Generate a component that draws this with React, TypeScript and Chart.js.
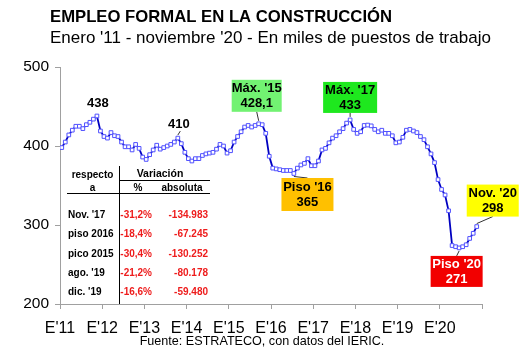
import React, { useEffect, useRef } from "react";
import { Chart, registerables } from "chart.js";

Chart.register(...registerables);

// Monthly formal construction employment, Jan 2011 - Nov 2020 (thousands)
const employment: number[] = [
  // 2011
  398, 405, 414, 420, 425, 425, 422, 427, 430, 434, 438, 419,
  // 2012
  412, 410, 417, 413, 412, 405, 399, 399, 395, 402, 397, 386,
  // 2013
  383, 389, 395, 401, 396, 398, 400, 402, 405, 410, 403, 392,
  // 2014
  384, 381, 384, 384, 388, 390, 391, 392, 396, 402, 400, 391,
  // 2015
  394, 405, 412, 418, 424, 426, 424, 426, 428.1, 427, 416, 387,
  // 2016
  372, 371, 370, 369, 369, 369, 365.2, 372, 376, 378, 384, 375,
  // 2017
  375, 381, 395, 397, 404, 410, 413, 418, 422, 429, 433, 421,
  // 2018
  416, 418, 426, 426.5, 425.5, 421, 418, 420, 416, 416, 413, 404,
  // 2019
  405, 411, 420, 421, 419, 417, 412, 408, 399, 390, 379, 357.5,
  // 2020
  345, 338, 318, 274, 272.5, 271, 272.5, 275, 283, 289.5, 298,
];

const yearLabels: string[] = ["E'11", "E'12", "E'13", "E'14", "E'15", "E'16", "E'17", "E'18", "E'19", "E'20"];
const yTicks: number[] = [200, 300, 400, 500];

const tableRefs: string[] = ["Nov. '17", "piso 2016", "pico 2015", "ago. '19", "dic. '19"];
const tablePct: string[] = ["-31,2%", "-18,4%", "-30,4%", "-21,2%", "-16,6%"];
const tableAbs: string[] = ["-134.983", "-67.245", "-130.252", "-80.178", "-59.480"];

// annotation definitions: index into employment, text lines
const boxNotes = [
  { idx: 56, lines: ["Máx. '15", "428,1"], bg: "#72f272", fg: "#000", dx: -2, top: -44, w: 50, h: 32, anchor: "bottom" },
  { idx: 82, lines: ["Máx. '17", "433"], bg: "#1ee81e", fg: "#000", dx: 0, top: -38, w: 54, h: 31, anchor: "bottom" },
  { idx: 66, lines: ["Piso '16", "365"], bg: "#ffc000", fg: "#000", dx: 13.6, top: 4.5, w: 52, h: 33, anchor: "top" },
  { idx: 118, lines: ["Nov. '20", "298"], bg: "#ffff00", fg: "#000", dx: 16, top: -42, w: 52, h: 32, anchor: "bottom" },
  { idx: 113, lines: ["Piso '20", "271"], bg: "#f20000", fg: "#fff", dx: -2.5, top: 8, w: 52, h: 31, anchor: "top" },
];
const textNotes = [
  { idx: 10, text: "438", dx: 1, dy: -13 },
  { idx: 33, text: "410", dx: 1, dy: -14 },
];

const FONT = '"Liberation Sans", Arial, Helvetica, sans-serif';

const overlayPlugin = {
  id: "overlay",
  afterDraw(chart: any) {
    const ctx = chart.ctx as CanvasRenderingContext2D;
    const xs = chart.scales.x;
    const ys = chart.scales.y;
    const P = (i: number) => ({ x: xs.getPixelForValue(i + 0.5), y: ys.getPixelForValue(employment[i]) });
    ctx.save();

    // Titles
    ctx.fillStyle = "#000";
    ctx.textBaseline = "middle";
    ctx.textAlign = "left";
    ctx.font = `bold 16.7px ${FONT}`;
    ctx.fillText("EMPLEO FORMAL EN LA CONSTRUCCIÓN", 50, 17);
    ctx.font = `17px ${FONT}`;
    ctx.fillText("Enero '11 - noviembre '20 - En miles de puestos de trabajo", 50, 38);

    // Footer
    ctx.textAlign = "center";
    ctx.font = `12.6px ${FONT}`;
    ctx.fillText("Fuente: ESTRATECO, con datos del IERIC.", 262, 342);

    // Table
    ctx.strokeStyle = "#000";
    ctx.lineWidth = 1;
    ctx.beginPath();
    ctx.moveTo(119.5, 166);
    ctx.lineTo(119.5, chart.chartArea.bottom);
    ctx.moveTo(120, 180.5);
    ctx.lineTo(210, 180.5);
    ctx.moveTo(67, 193.5);
    ctx.lineTo(210, 193.5);
    ctx.stroke();

    ctx.font = `bold 10px ${FONT}`;
    ctx.fillStyle = "#000";
    ctx.textAlign = "center";
    ctx.fillText("respecto", 92.5, 175);
    ctx.fillText("a", 92.5, 188);
    ctx.font = `bold 10.5px ${FONT}`;
    ctx.fillText("Variación", 160, 174);
    ctx.font = `bold 10px ${FONT}`;
    ctx.fillText("%", 138, 188);
    ctx.fillText("absoluta", 182, 188);
    tableRefs.forEach((r, k) => {
      const y = 215 + k * 19.4;
      ctx.fillStyle = "#000";
      ctx.textAlign = "left";
      ctx.fillText(r, 68, y);
      ctx.fillStyle = "#ee1c1c";
      ctx.textAlign = "right";
      ctx.fillText(tablePct[k], 152, y);
      ctx.fillText(tableAbs[k], 208, y);
    });

    // Text notes
    ctx.font = `bold 13px ${FONT}`;
    ctx.textAlign = "center";
    ctx.fillStyle = "#000";
    textNotes.forEach((n) => {
      const p = P(n.idx);
      ctx.fillText(n.text, p.x + n.dx, p.y + n.dy);
    });
    {
      const p = P(33);
      ctx.strokeStyle = "#333";
      ctx.beginPath();
      ctx.moveTo(p.x, p.y - 3);
      ctx.lineTo(p.x + 2.5, p.y - 7);
      ctx.stroke();
    }

    // Box notes
    boxNotes.forEach((n) => {
      const p = P(n.idx);
      const cx = p.x + n.dx;
      const bx = cx - n.w / 2;
      const by = p.y + n.top;
      ctx.strokeStyle = "#333";
      ctx.lineWidth = 1;
      ctx.beginPath();
      if (n.anchor === "bottom") {
        ctx.moveTo(p.x, p.y - 3);
        ctx.lineTo(cx, by + n.h);
      } else {
        ctx.moveTo(p.x, p.y + 3);
        ctx.lineTo(cx, by);
      }
      ctx.stroke();
      ctx.fillStyle = n.bg;
      ctx.fillRect(bx, by, n.w, n.h);
      ctx.fillStyle = n.fg;
      ctx.font = `bold 13px ${FONT}`;
      ctx.textAlign = "center";
      ctx.fillText(n.lines[0], cx, by + n.h / 2 - 7);
      ctx.fillText(n.lines[1], cx, by + n.h / 2 + 8);
    });

    ctx.restore();
  },
};

export default function App() {
  const ref = useRef<HTMLCanvasElement | null>(null);
  useEffect(() => {
    if (!ref.current) return;
    const chart = new Chart(ref.current, {
      type: "line",
      data: {
        datasets: [
          {
            data: employment.map((v, i) => ({ x: i + 0.5, y: v })),
            borderColor: "#0000c0",
            borderWidth: 1.8,
            pointStyle: "rect",
            pointRadius: 2.6,
            pointBorderWidth: 1,
            pointBorderColor: "#5050ff",
            pointBackgroundColor: "#ffffff",
            tension: 0,
          },
        ],
      },
      options: {
        responsive: false,
        animation: false,
        devicePixelRatio: 1,
        layout: { padding: { left: 0, top: 67, right: 48, bottom: 0 } },
        plugins: { legend: { display: false }, tooltip: { enabled: false }, title: { display: false } },
        scales: {
          x: {
            type: "linear",
            min: 0,
            max: 120,
            afterBuildTicks: (s: any) => {
              s.ticks = yearLabels.map((_, k) => ({ value: k * 12 })).concat([{ value: 120 }]);
            },
            ticks: {
              autoSkip: false,
              maxRotation: 0,
              color: "#000",
              font: { size: 16, family: FONT },
              padding: 10,
              callback: (v: any) => yearLabels[Math.round(Number(v) / 12)] ?? "",
            },
            grid: { drawOnChartArea: false, tickLength: 5, color: "#a0a0a0" },
            border: { color: "#a0a0a0" },
            afterFit: (s: any) => {
              s.height = 50;
            },
          },
          y: {
            type: "linear",
            min: 200,
            max: 500,
            afterBuildTicks: (s: any) => {
              s.ticks = yTicks.map((v) => ({ value: v }));
            },
            ticks: { color: "#000", font: { size: 15.5, family: FONT }, padding: 6 },
            grid: { drawOnChartArea: false, tickLength: 5, color: "#a0a0a0" },
            border: { color: "#a0a0a0" },
            afterFit: (s: any) => {
              s.width = 60;
            },
          },
        },
      },
      plugins: [overlayPlugin],
    } as any);
    return () => chart.destroy();
  }, []);
  return (
    <div style={{ position: "fixed", left: 0, top: 0, width: 530, height: 354, background: "#fff" }}>
      <canvas ref={ref} width={530} height={354} style={{ display: "block" }} />
    </div>
  );
}
